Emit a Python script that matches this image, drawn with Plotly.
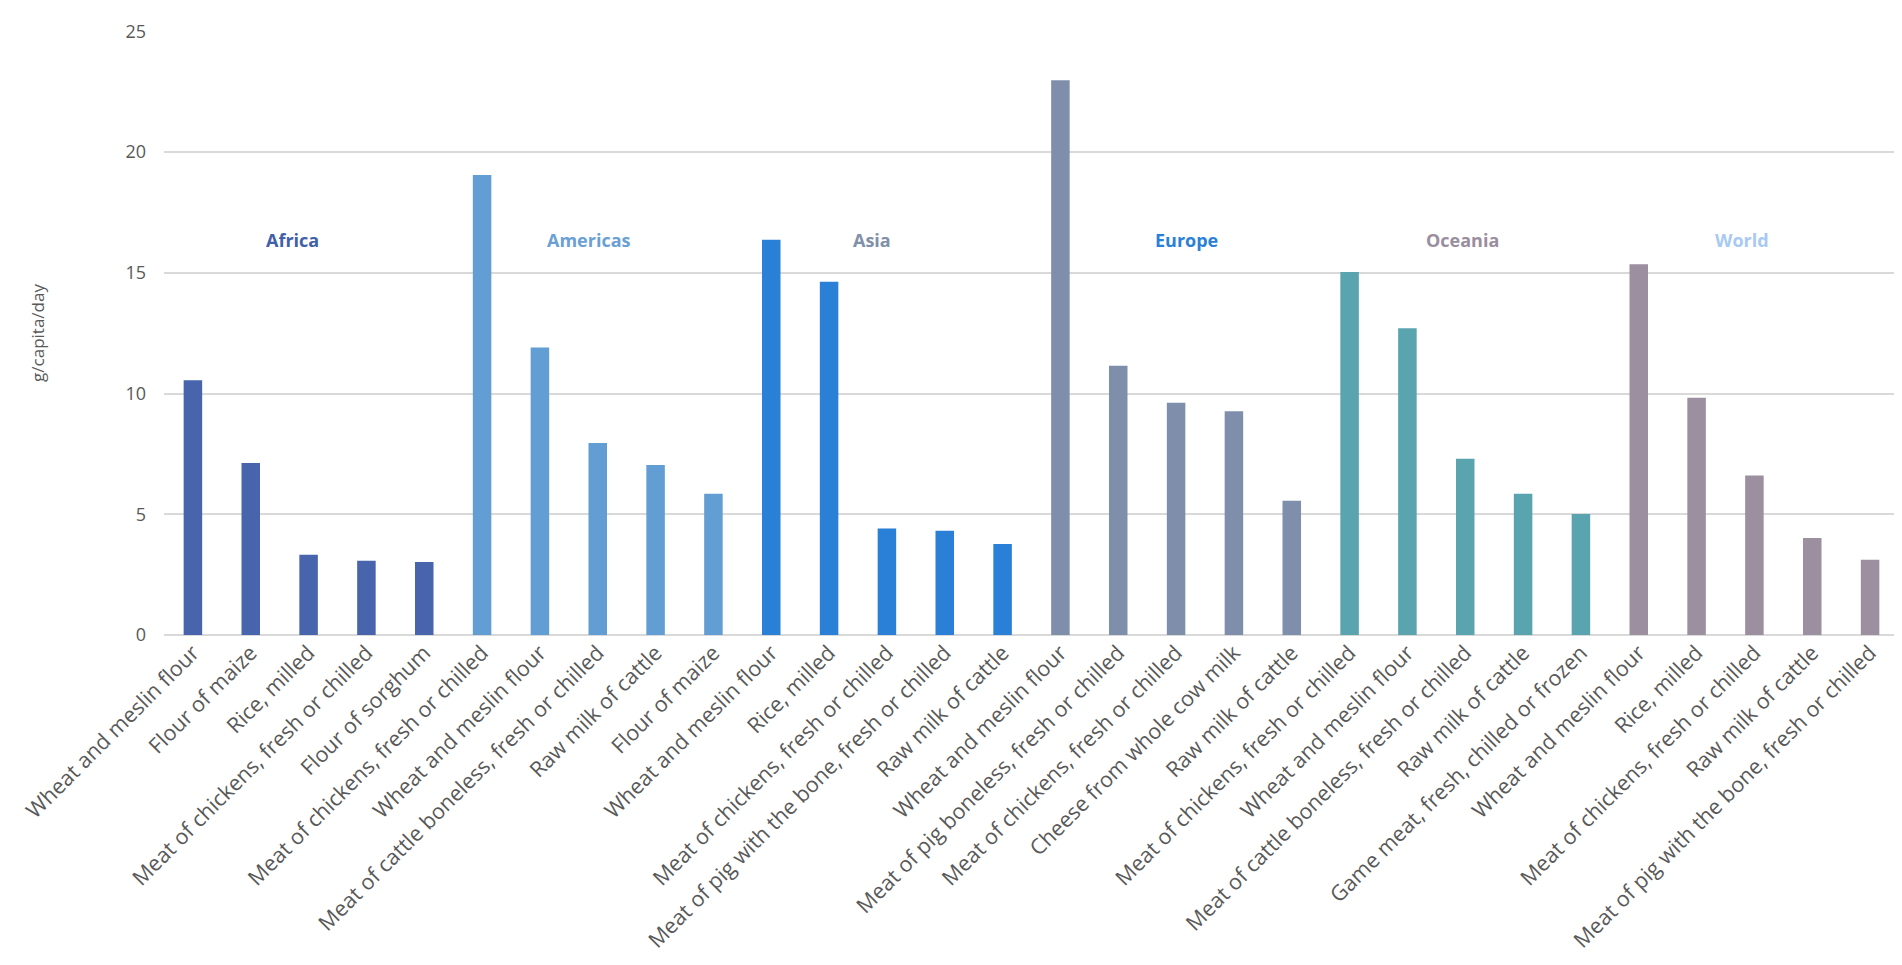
import plotly.graph_objects as go

# regioes e produtos (5 por regiao)
regions = ['Africa', 'Americas', 'Asia', 'Europe', 'Oceania', 'World']

products = [
    # Africa
    'Wheat and meslin flour', 'Flour of maize', 'Rice, milled',
    'Meat of chickens, fresh or chilled', 'Flour of sorghum',
    # Americas
    'Meat of chickens, fresh or chilled', 'Wheat and meslin flour',
    'Meat of cattle boneless, fresh or chilled', 'Raw milk of cattle', 'Flour of maize',
    # Asia
    'Wheat and meslin flour', 'Rice, milled', 'Meat of chickens, fresh or chilled',
    'Meat of pig with the bone, fresh or chilled', 'Raw milk of cattle',
    # Europe
    'Wheat and meslin flour', 'Meat of pig boneless, fresh or chilled',
    'Meat of chickens, fresh or chilled', 'Cheese from whole cow milk', 'Raw milk of cattle',
    # Oceania
    'Meat of chickens, fresh or chilled', 'Wheat and meslin flour',
    'Meat of cattle boneless, fresh or chilled', 'Raw milk of cattle',
    'Game meat, fresh, chilled or frozen',
    # World
    'Wheat and meslin flour', 'Rice, milled', 'Meat of chickens, fresh or chilled',
    'Raw milk of cattle', 'Meat of pig with the bone, fresh or chilled',
]

# g/capita/day
africa = [10.55, 7.12, 3.32, 3.07, 3.02]
americas = [19.05, 11.9, 7.95, 7.04, 5.85]
asia = [16.37, 14.63, 4.41, 4.32, 3.77]
europe = [22.97, 11.15, 9.62, 9.27, 5.56]
oceania = [15.03, 12.7, 7.3, 5.85, 5.01]
world = [15.35, 9.82, 6.6, 4.02, 3.12]

values = [africa, americas, asia, europe, oceania, world]

bar_colors = ['#4864AC', '#629ED3', '#2A7FD6', '#7F8FAB', '#5AA4AF', '#9C8FA0']
label_colors = ['#4060A8', '#6AA0D4', '#8090A8', '#2A7FD6', '#9A8E9E', '#A8CAF2']
label_x = [1.72, 6.84, 11.75, 17.18, 21.96, 26.78]
label_y = 16.35

fig = go.Figure()

for i, reg in enumerate(regions):
    xs = list(range(i * 5, i * 5 + 5))
    fig.add_trace(go.Bar(x=xs, y=values[i], name=reg,
                         marker=dict(color=bar_colors[i], line=dict(width=0))))
    fig.add_annotation(x=label_x[i], y=label_y, text='<b>' + reg + '</b>',
                       showarrow=False, xref='x', yref='y',
                       font=dict(family='Open Sans', size=18, color=label_colors[i]))

fig.update_layout(
    width=1902, height=965,
    plot_bgcolor='white', paper_bgcolor='white',
    showlegend=False,
    bargap=0.68,
    margin=dict(l=146, r=11, t=14, b=338),
    font=dict(family='Open Sans', color='#595959'),
)

fig.update_xaxes(
    tickmode='array', tickvals=list(range(len(products))), ticktext=products,
    tickangle=-45, tickfont=dict(size=21.5, color='#595959'),
    range=[-0.5, len(products) - 0.5],
    showgrid=False, showline=False, ticks='',
)

fig.update_yaxes(
    range=[0, 25.01], tickvals=[0, 5, 10, 15, 20, 25],
    tickfont=dict(size=18, color='#595959'),
    showgrid=True, gridcolor='#D9D9D9', gridwidth=1.5,
    zeroline=True, zerolinecolor='#D9D9D9', zerolinewidth=1.5,
    title=dict(text='g/capita/day', font=dict(size=17, color='#595959'), standoff=76),
    ticks='', ticklabelstandoff=17,
)

fig.write_html('out.html')
